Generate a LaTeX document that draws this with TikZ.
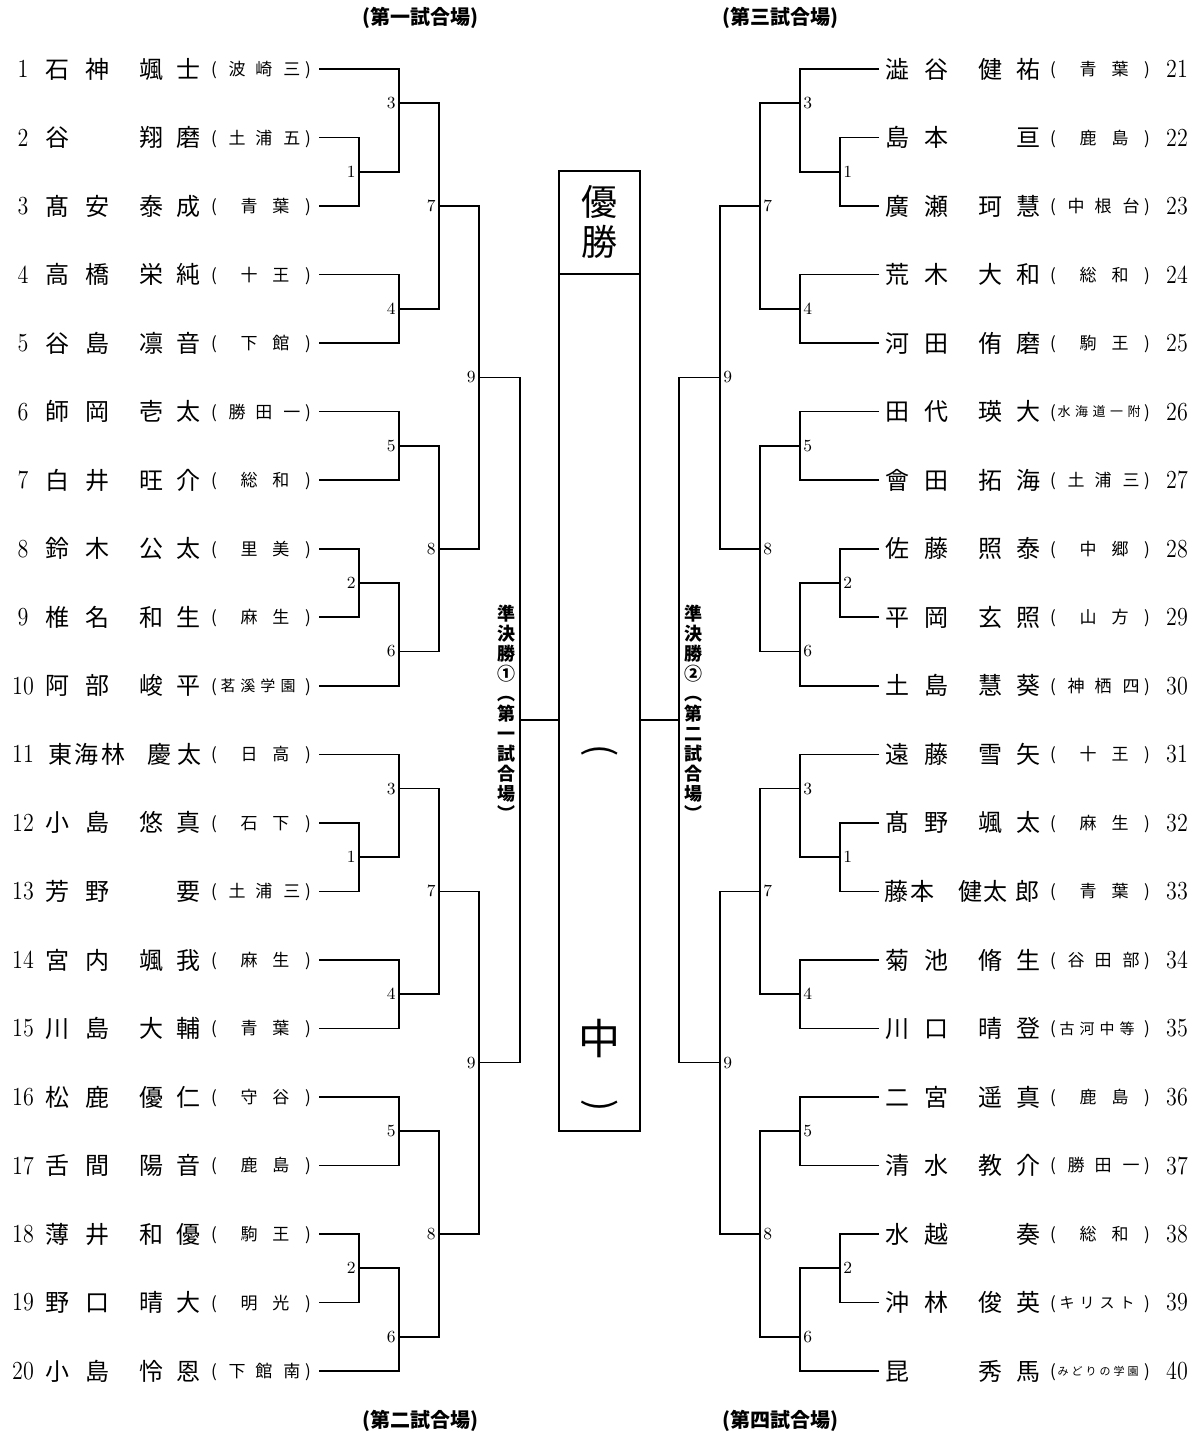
\documentclass[tikz,border=0pt]{standalone}
\usepackage{fontspec}
\usepackage{graphicx}
\newfontfamily\jp{Noto Sans CJK JP}
\newlength\pxl \setlength\pxl{0.5pt}
\newcommand\pc[2]{\makebox[0pt][l]{\hspace*{#1\pxl}\makebox[0pt][c]{#2}}}
% names
\newcommand\nmA[4]{\pc{0}{#1}\pc{39}{#2}\pc{93}{#3}\pc{131}{#4}}
\newcommand\nmB[3]{\pc{0}{#1}\pc{93}{#2}\pc{131}{#3}}
\newcommand\nmC[3]{\pc{0}{#1}\pc{39}{#2}\pc{131}{#3}}
% schools
\newcommand\prn{\pc{156}{(}\pc{250}{)}}
\newcommand\scB[2]{\prn\pc{191}{#1}\pc{223}{#2}}
\newcommand\scC[3]{\prn\pc{179}{#1}\pc{206}{#2}\pc{234}{#3}}
\newcommand\scD[4]{\prn\raisebox{0.4pt}{\fontsize{7.5pt}{8pt}\selectfont\pc{170}{#1}\pc{190}{#2}\pc{210}{#3}\pc{230}{#4}}}
\newcommand\scE[5]{\prn\raisebox{0.7pt}{\fontsize{6.5pt}{7pt}\selectfont\pc{167}{#1}\pc{184.5}{#2}\pc{202}{#3}\pc{219.5}{#4}\pc{237}{#5}}}
\newcommand\scF[6]{\prn\raisebox{1pt}{\fontsize{5.5pt}{6pt}\selectfont\pc{166}{#1}\pc{180}{#2}\pc{194}{#3}\pc{208}{#4}\pc{222}{#5}\pc{236}{#6}}}
% bracket of 10 players
\newcommand\bracket[8]{%
 \foreach \j in {1,...,10}{\coordinate (#1p\j) at (#8,{#2+(\j-1)*68.53});}
 \pgfmathsetmacro\bkya{#2+0.5*68.53}
 \pgfmathsetmacro\bkyb{#2+1.5*68.53}
 \pgfmathsetmacro\bkyc{#2+2*68.53}
 \pgfmathsetmacro\bkyd{#2+3.5*68.53}
 \pgfmathsetmacro\bkye{#2+5.5*68.53}
 \pgfmathsetmacro\bkyf{#2+7*68.53}
 \pgfmathsetmacro\bkyg{#2+7.5*68.53}
 \pgfmathsetmacro\bkyh{#2+8.5*68.53}
 \pgfmathsetmacro\bkyi{#2+4.5*68.53}
 \coordinate (#1m1) at (#3,\bkyb);
 \coordinate (#1m2) at (#3,\bkyg);
 \coordinate (#1m3) at (#4,\bkya);
 \coordinate (#1m4) at (#4,\bkyd);
 \coordinate (#1m5) at (#4,\bkye);
 \coordinate (#1m6) at (#4,\bkyh);
 \coordinate (#1m7) at (#5,\bkyc);
 \coordinate (#1m8) at (#5,\bkyf);
 \coordinate (#1m9) at (#6,\bkyi);
 \draw (#1p2) -| (#1m1); \draw (#1p3) -| (#1m1);
 \draw (#1p8) -| (#1m2); \draw (#1p9) -| (#1m2);
 \draw (#1p1) -| (#1m3); \draw (#1m1) -| (#1m3);
 \draw (#1p4) -| (#1m4); \draw (#1p5) -| (#1m4);
 \draw (#1p6) -| (#1m5); \draw (#1p7) -| (#1m5);
 \draw (#1m2) -| (#1m6); \draw (#1p10) -| (#1m6);
 \draw (#1m3) -| (#1m7); \draw (#1m4) -| (#1m7);
 \draw (#1m5) -| (#1m8); \draw (#1m6) -| (#1m8);
 \draw (#1m7) -| (#1m9); \draw (#1m8) -| (#1m9);
 \foreach \j in {1,...,9}{\node[#7] (#1l\j) at (#1m\j) {\j};}
}
\tikzset{
 numsty/.style={inner sep=0pt, font=\fontsize{13pt}{14pt}\selectfont},
 namesty/.style={anchor=base, inner sep=0pt, font=\jp\fontsize{12pt}{13pt}\selectfont},
 schsty/.style={anchor=base, inner sep=0pt, font=\jp\fontsize{8.5pt}{9pt}\selectfont},
 labL/.style={anchor=east, inner sep=0pt, xshift=-1.3pt, font=\fontsize{8.5pt}{9pt}\selectfont},
 labR/.style={anchor=west, inner sep=0pt, xshift=1.3pt, font=\fontsize{8.5pt}{9pt}\selectfont},
 hdr/.style={inner sep=0pt, font=\jp\bfseries\fontsize{10pt}{12pt}\selectfont},
 vtext/.style={inner sep=0pt, align=center, font=\jp\bfseries\fontsize{9pt}{10pt}\selectfont},
 boxsty/.style={draw, inner sep=0pt, minimum width=40.5pt},
 bigch/.style={anchor=base, inner sep=0pt},
}
\begin{document}
\begin{tikzpicture}[x=0.5pt,y=-0.5pt,line width=0.8pt]
\useasboundingbox (0,0) rectangle (1201,1434);
\fill[white] (0,0) rectangle (1201,1434);
% left players
\foreach \k/\nm/\sc in {
1/{\nmA{石}{神}{颯}{士}}/{\scC{波}{崎}{三}},
2/{\nmB{谷}{翔}{磨}}/{\scC{土}{浦}{五}},
3/{\nmA{髙}{安}{泰}{成}}/{\scB{青}{葉}},
4/{\nmA{高}{橋}{栄}{純}}/{\scB{十}{王}},
5/{\nmA{谷}{島}{凛}{音}}/{\scB{下}{館}},
6/{\nmA{師}{岡}{壱}{太}}/{\scC{勝}{田}{一}},
7/{\nmA{白}{井}{旺}{介}}/{\scB{総}{和}},
8/{\nmA{鈴}{木}{公}{太}}/{\scB{里}{美}},
9/{\nmA{椎}{名}{和}{生}}/{\scB{麻}{生}},
10/{\nmA{阿}{部}{峻}{平}}/{\scD{茗}{溪}{学}{園}},
11/{\pc{2}{東}\pc{29}{海}\pc{56}{林}\pc{102}{慶}\pc{132}{太}}/{\scB{日}{高}},
12/{\nmA{小}{島}{悠}{真}}/{\scB{石}{下}},
13/{\nmC{芳}{野}{要}}/{\scC{土}{浦}{三}},
14/{\nmA{宮}{内}{颯}{我}}/{\scB{麻}{生}},
15/{\nmA{川}{島}{大}{輔}}/{\scB{青}{葉}},
16/{\nmA{松}{鹿}{優}{仁}}/{\scB{守}{谷}},
17/{\nmA{舌}{間}{陽}{音}}/{\scB{鹿}{島}},
18/{\nmA{薄}{井}{和}{優}}/{\scB{駒}{王}},
19/{\nmA{野}{口}{晴}{大}}/{\scB{明}{光}},
20/{\nmA{小}{島}{怜}{恩}}/{\scC{下}{館}{南}}%
}{
 \pgfmathsetmacro\yy{69+(\k-1)*68.53}
 \node[numsty] (num\k) at (23,\yy) {\scalebox{0.85}[1]{\k}};
 \node[namesty] (nm\k) at (58,\yy+9.1) {\nm};
 \node[schsty] (sc\k) at (58,\yy+6.5) {\sc};
}
% right players
\foreach \k/\nm/\sc in {
21/{\nmA{澁}{谷}{健}{祐}}/{\scB{青}{葉}},
22/{\nmC{島}{本}{亘}}/{\scB{鹿}{島}},
23/{\nmA{廣}{瀬}{珂}{慧}}/{\scC{中}{根}{台}},
24/{\nmA{荒}{木}{大}{和}}/{\scB{総}{和}},
25/{\nmA{河}{田}{侑}{磨}}/{\scB{駒}{王}},
26/{\nmA{田}{代}{瑛}{大}}/{\scE{水}{海}{道}{一}{附}},
27/{\nmA{會}{田}{拓}{海}}/{\scC{土}{浦}{三}},
28/{\nmA{佐}{藤}{照}{泰}}/{\scB{中}{郷}},
29/{\nmA{平}{岡}{玄}{照}}/{\scB{山}{方}},
30/{\nmA{土}{島}{慧}{葵}}/{\scC{神}{栖}{四}},
31/{\nmA{遠}{藤}{雪}{矢}}/{\scB{十}{王}},
32/{\nmA{髙}{野}{颯}{太}}/{\scB{麻}{生}},
33/{\pc{-1}{藤}\pc{25}{本}\pc{73}{健}\pc{98}{太}\pc{130}{郎}}/{\scB{青}{葉}},
34/{\nmA{菊}{池}{脩}{生}}/{\scC{谷}{田}{部}},
35/{\nmA{川}{口}{晴}{登}}/{\scD{古}{河}{中}{等}},
36/{\nmA{二}{宮}{遥}{真}}/{\scB{鹿}{島}},
37/{\nmA{清}{水}{教}{介}}/{\scC{勝}{田}{一}},
38/{\nmC{水}{越}{奏}}/{\scB{総}{和}},
39/{\nmA{沖}{林}{俊}{英}}/{\scD{キ}{リ}{ス}{ト}},
40/{\nmB{昆}{秀}{馬}}/{\scF{み}{ど}{り}{の}{学}{園}}%
}{
 \pgfmathsetmacro\yy{69+(\k-21)*68.53}
 \node[numsty] (num\k) at (1177,\yy) {\scalebox{0.85}[1]{\k}};
 \node[namesty] (nm\k) at (897,\yy+9.1) {\nm};
 \node[schsty] (sc\k) at (897,\yy+6.5) {\sc};
}
% brackets
\bracket{a}{69}{359}{399}{439}{479}{labL}{319}
\bracket{b}{754.3}{359}{399}{439}{479}{labL}{319}
\bracket{c}{69}{840}{800}{760}{720}{labR}{879}
\bracket{d}{754.3}{840}{800}{760}{720}{labR}{879}
% centre box
\node[boxsty, minimum height=51.5pt] (head) at (599.5,222.5) {};
\node[boxsty, minimum height=428.5pt] (body) at (599.5,702.5) {};
\node[bigch, font=\jp\fontsize{18pt}{20pt}\selectfont] (yu) at (599.5,215.4) {優};
\node[bigch, font=\jp\fontsize{18pt}{20pt}\selectfont] (sho) at (599.5,255.4) {勝};
\node[inner sep=0pt, rotate=-90, font=\jp\fontsize{18pt}{20pt}\selectfont] (pl) at (599.5,751) {(};
\node[bigch, font=\jp\fontsize{21pt}{22pt}\selectfont] (naka) at (599.5,1054) {中};
\node[inner sep=0pt, rotate=-90, font=\jp\fontsize{18pt}{20pt}\selectfont] (pr) at (599.5,1106) {)};
% semifinals
\coordinate (sfL) at (520,720);
\coordinate (sfR) at (679,720);
\draw (am9) -| (sfL); \draw (bm9) -| (sfL);
\draw (sfL) -- (sfL -| body.west);
\draw (cm9) -| (sfR); \draw (dm9) -| (sfR);
\draw (sfR) -- (sfR -| body.east);
\node[vtext] (sf1) at (506.7,712.5) {準\\決\\勝\\①\\︵\\第\\一\\試\\合\\場\\︶};
\node[vtext] (sf2) at (693.3,712.5) {準\\決\\勝\\②\\︵\\第\\二\\試\\合\\場\\︶};
% headings
\node[hdr] (h1) at (420,18) {(第一試合場)};
\node[hdr] (h3) at (780,18) {(第三試合場)};
\node[hdr] (h2) at (420,1421) {(第二試合場)};
\node[hdr] (h4) at (780,1421) {(第四試合場)};
\end{tikzpicture}
\end{document}
